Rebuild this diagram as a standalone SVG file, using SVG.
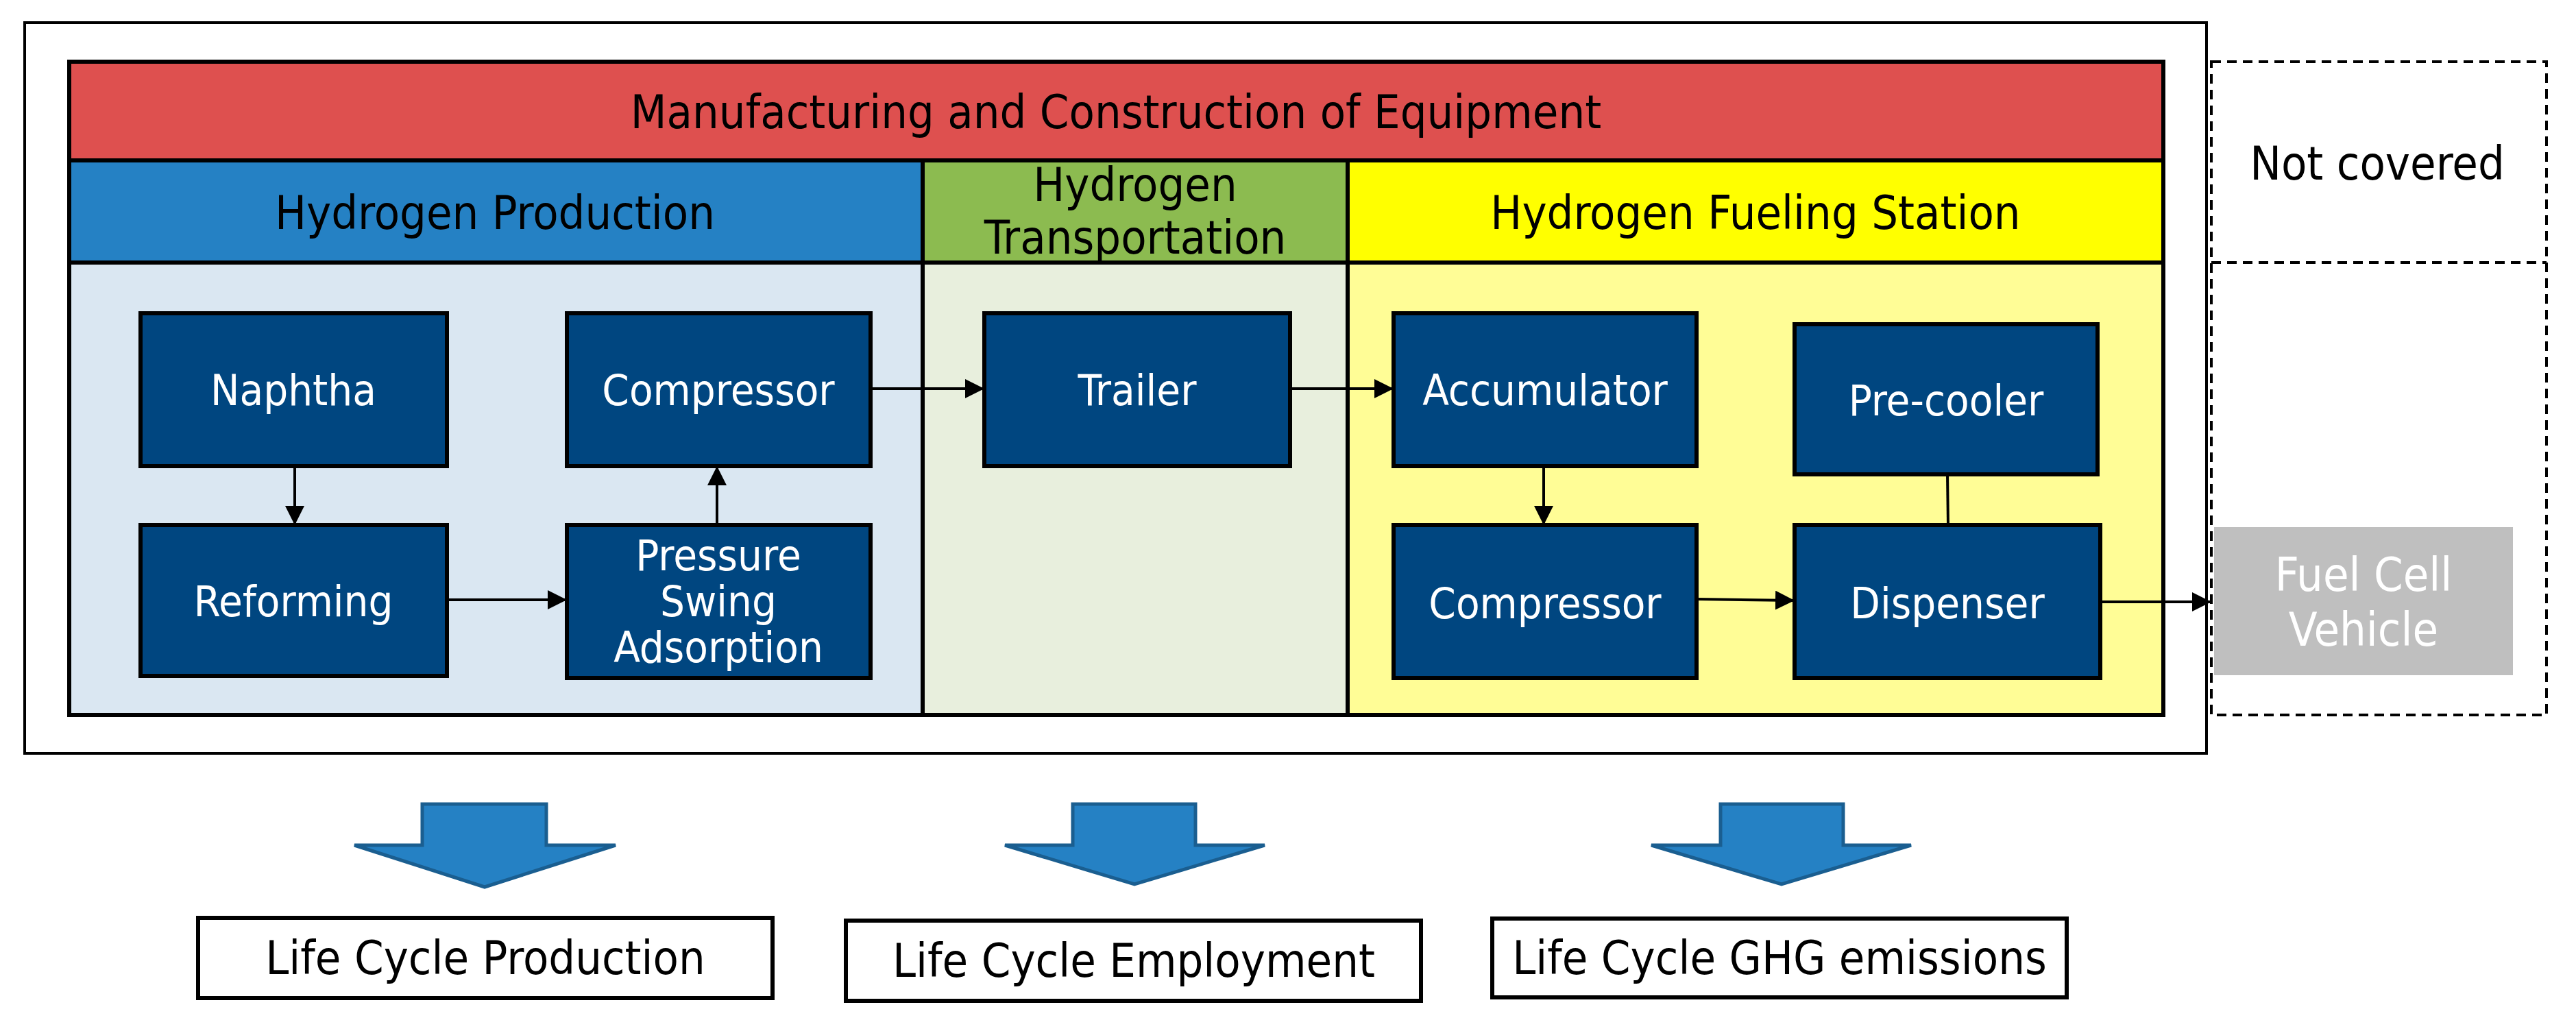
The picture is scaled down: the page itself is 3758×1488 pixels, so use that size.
<svg xmlns="http://www.w3.org/2000/svg" width="3758" height="1488" viewBox="0 0 3758 1488">
<defs>
<style>
text{font-family:"DejaVu Sans Condensed","DejaVu Sans",sans-serif;font-stretch:condensed;text-anchor:middle;font-size:68px}
.n rect{fill:#004680;stroke:#000;stroke-width:6}
.n text{fill:#fff;font-size:63px}
.c{stroke:#000;stroke-width:4;fill:none;marker-end:url(#a)}
.band{stroke:#000;stroke-width:6}
.big{fill:#2581c4;stroke:#1a5e90;stroke-width:5}
.res rect{fill:#fff;stroke:#000;stroke-width:6}
</style>
<marker id="a" viewBox="0 0 10 10" refX="10" refY="5" markerWidth="7" markerHeight="7" orient="auto" markerUnits="strokeWidth"><path d="M0,0L10,5L0,10z" fill="#000"/></marker>
</defs>
<rect width="3758" height="1488" fill="#fff"/>
<rect x="36" y="33" width="3183" height="1066" fill="none" stroke="#000" stroke-width="4"/>
<g id="dashed">
<rect x="3226" y="90" width="489" height="953" fill="none" stroke="#000" stroke-width="4" stroke-dasharray="14,9"/>
<line x1="3226" y1="383" x2="3715" y2="383" stroke="#000" stroke-width="4" stroke-dasharray="14,9"/>
<text x="3468" y="262" fill="#000">Not covered</text>
</g>
<g id="manufacturing"><rect class="band" x="101" y="90" width="3055" height="144" fill="#de504f"/><text x="1628" y="187">Manufacturing and Construction of Equipment</text></g>
<g id="production"><rect class="band" x="101" y="234" width="1245" height="149" fill="#2581c4"/><rect class="band" x="101" y="383" width="1245" height="660" fill="#dae7f2"/><text x="722" y="334">Hydrogen Production</text></g>
<g id="transportation"><rect class="band" x="1346" y="234" width="620" height="149" fill="#8cbb50"/><rect class="band" x="1346" y="383" width="620" height="660" fill="#e8efdd"/><text x="1656" y="293" font-size="60">Hydrogen</text><text x="1656" y="370" font-size="60">Transportation</text></g>
<g id="station"><rect class="band" x="1966" y="234" width="1190" height="149" fill="#ffff00"/><rect class="band" x="1966" y="383" width="1190" height="660" fill="#fffd96"/><text x="2561" y="334">Hydrogen Fueling Station</text></g>
<g id="naphtha" class="n"><rect x="205" y="457" width="447" height="223"/><text x="428" y="591">Naphtha</text></g>
<g id="reforming" class="n"><rect x="205" y="766" width="447" height="220"/><text x="428" y="899">Reforming</text></g>
<g id="compressor1" class="n"><rect x="827" y="457" width="443" height="223"/><text x="1048" y="591">Compressor</text></g>
<g id="psa" class="n"><rect x="827" y="766" width="443" height="223"/><text x="1048" y="832" font-size="59">Pressure</text><text x="1048" y="899" font-size="59">Swing</text><text x="1048" y="966" font-size="59">Adsorption</text></g>
<g id="trailer" class="n"><rect x="1436" y="457" width="446" height="223"/><text x="1659" y="591">Trailer</text></g>
<g id="accumulator" class="n"><rect x="2033" y="457" width="442" height="223"/><text x="2254" y="591">Accumulator</text></g>
<g id="precooler" class="n"><rect x="2618" y="473" width="442" height="219"/><text x="2839" y="606">Pre-cooler</text></g>
<g id="compressor2" class="n"><rect x="2033" y="766" width="442" height="223"/><text x="2254" y="902">Compressor</text></g>
<g id="dispenser" class="n"><rect x="2618" y="766" width="446" height="223"/><text x="2841" y="902">Dispenser</text></g>
<g id="fcv"><rect x="3230" y="769" width="436" height="216" fill="#bfbfbf"/><text x="3448" y="862" fill="#fff" font-size="56">Fuel Cell</text><text x="3448" y="942" fill="#fff" font-size="56">Vehicle</text></g>
<g id="connectors">
<line class="c" x1="430" y1="680" x2="430" y2="766"/>
<line class="c" x1="652" y1="875" x2="827" y2="875"/>
<line class="c" x1="1046" y1="766" x2="1046" y2="680"/>
<line class="c" x1="1270" y1="567" x2="1436" y2="567"/>
<line class="c" x1="1882" y1="567" x2="2033" y2="567"/>
<line class="c" x1="2252" y1="680" x2="2252" y2="766"/>
<line class="c" x1="2475" y1="874" x2="2618" y2="876"/>
<line x1="2841" y1="692" x2="2842" y2="766" stroke="#000" stroke-width="4"/>
<line class="c" x1="3064" y1="878" x2="3226" y2="878"/>
</g>
<g id="arrows">
<path class="big" d="M616,1173H797V1233H898L707,1294L517,1233H616Z"/>
<path class="big" d="M1565,1173H1744V1233H1845L1655,1290L1466,1233H1565Z"/>
<path class="big" d="M2510,1173H2689V1233H2788L2599,1290L2409,1233H2510Z"/>
</g>
<g id="lcp" class="res"><rect x="289" y="1339" width="838" height="117"/><text x="708" y="1421">Life Cycle Production</text></g>
<g id="lce" class="res"><rect x="1234" y="1343" width="839" height="117"/><text x="1654" y="1425">Life Cycle Employment</text></g>
<g id="lcg" class="res"><rect x="2177" y="1340" width="838" height="115"/><text x="2596" y="1421">Life Cycle GHG emissions</text></g>
</svg>
